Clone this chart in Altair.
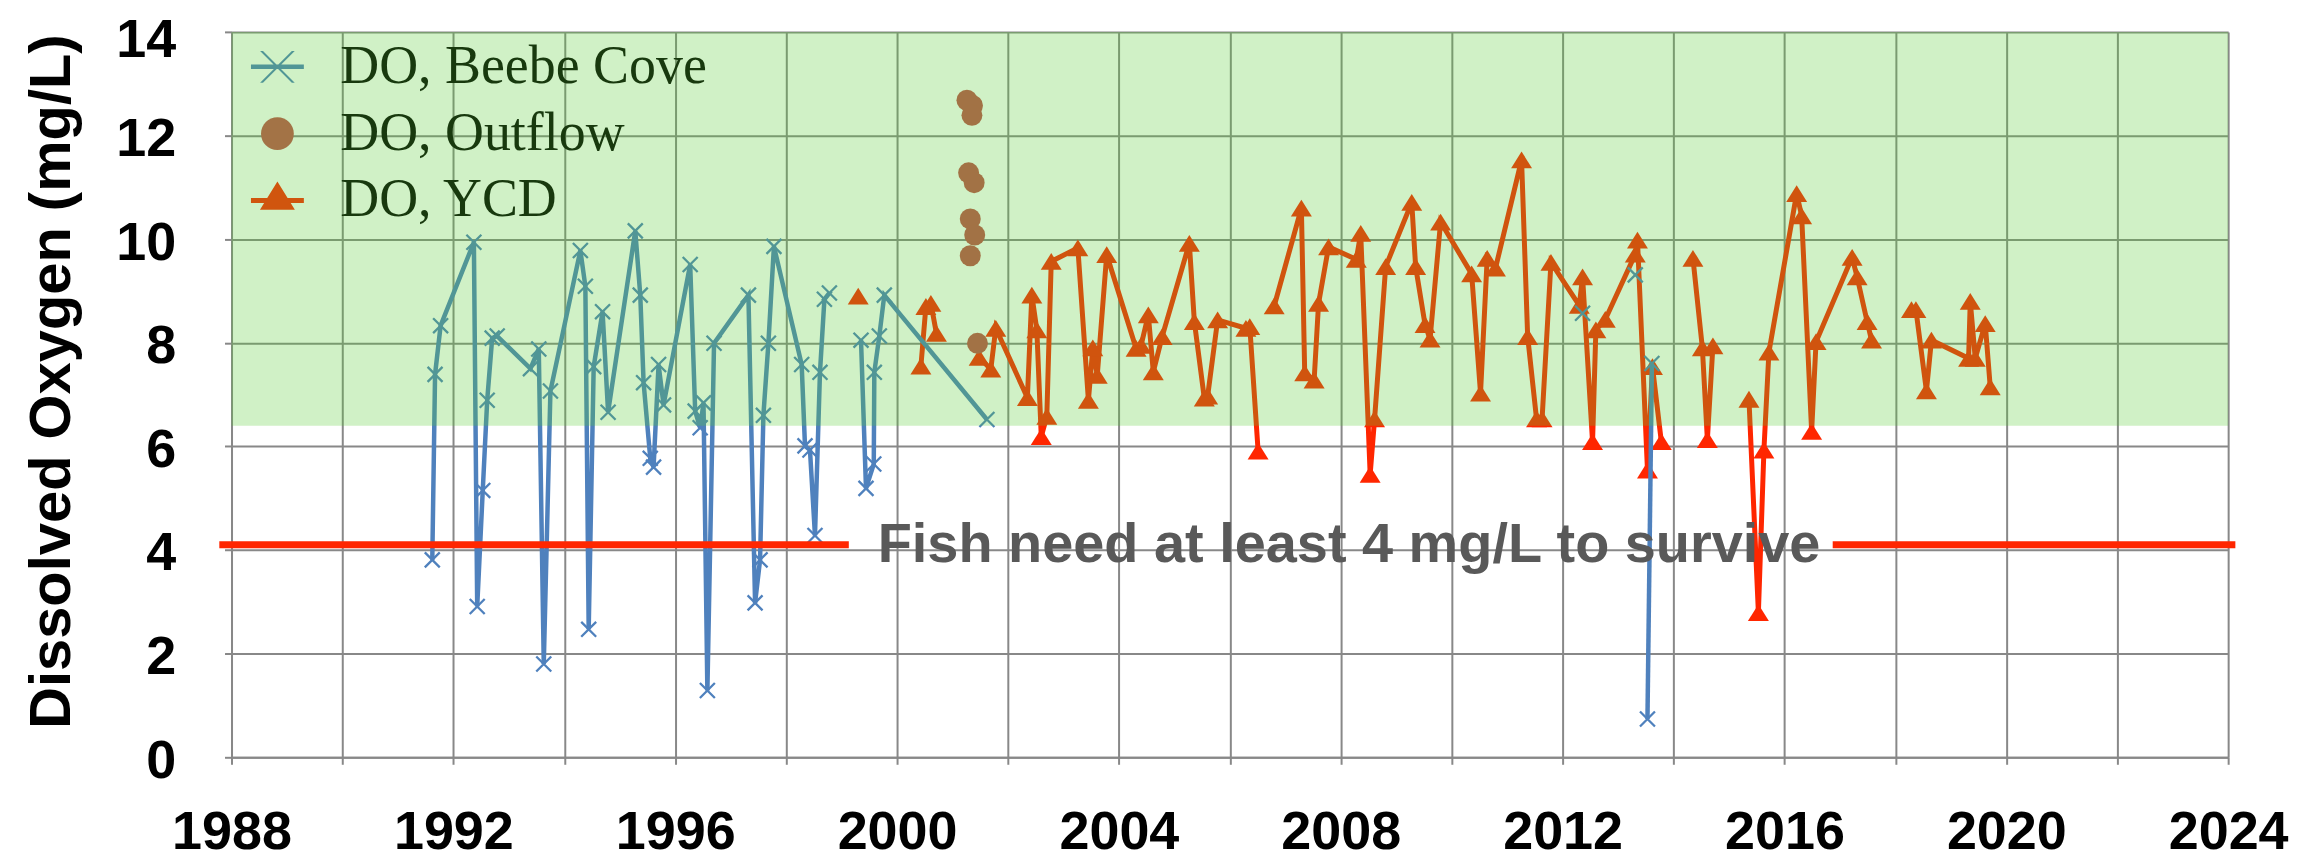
import altair as alt
import pandas as pd

# ---------------- data ----------------
series_names = ["DO, Beebe Cove", "DO, Outflow", "DO, YCD"]

beebe_year = [1991.62, 1991.67, 1991.77, 1992.37, 1992.43, 1992.53, 1992.61, 1992.70, 1992.79,
              1993.39, 1993.54, 1993.63, 1993.75, 1994.29, 1994.38, 1994.44, 1994.53, 1994.69,
              1994.79, 1995.28, 1995.37, 1995.43, 1995.55, 1995.61, 1995.70, 1995.79, 1996.27,
              1996.36, 1996.45, 1996.51, 1996.58, 1996.70, 1997.32, 1997.44, 1997.53, 1997.59,
              1997.68, 1997.78, 1998.28, 1998.34, 1998.43, 1998.52, 1998.61, 1998.69, 1998.78,
              1999.35, 1999.44, 1999.58, 1999.59, 1999.68, 1999.77, 2001.62,
              2012.36,
              2013.31,
              2013.53, 2013.61]
beebe_do = [3.81, 7.39, 8.33, 9.94, 2.91, 5.15, 6.89, 8.09, 8.13,
            7.50, 7.88, 1.80, 7.07, 9.78, 9.09, 2.47, 7.54, 8.60,
            6.66, 10.16, 8.92, 7.23, 5.77, 5.60, 7.58, 6.80, 9.51,
            6.68, 6.36, 6.84, 1.29, 7.99, 8.92, 2.98, 3.81, 6.60,
            7.99, 9.86, 7.58, 6.01, 5.93, 4.28, 7.43, 8.84, 8.96,
            8.05, 5.19, 5.66, 7.43, 8.13, 8.92, 6.52,
            8.57,
            9.31,
            0.74, 7.60]
beebe_seg = [1] * 45 + [2] * 7 + [3] + [4] + [5] * 2

outflow_year = [2001.26, 2001.36, 2001.35, 2001.29, 2001.39, 2001.32, 2001.40, 2001.32, 2001.45]
outflow_do = [12.68, 12.58, 12.39, 11.28, 11.09, 10.39, 10.08, 9.68, 7.99]

ycd_year = [1999.30,
            2000.43, 2000.52, 2000.61, 2000.71,
            2001.48, 2001.69, 2001.78, 2002.35, 2002.43, 2002.52, 2002.60, 2002.70, 2002.78,
            2003.26, 2003.45, 2003.53, 2003.61, 2003.78, 2004.31, 2004.40, 2004.53, 2004.62,
            2004.78, 2005.27, 2005.36, 2005.54, 2005.60, 2005.78, 2006.29, 2006.36, 2006.51,
            2006.80, 2007.29, 2007.35, 2007.52, 2007.60, 2007.78, 2008.28, 2008.36, 2008.53,
            2008.61, 2008.81, 2009.28, 2009.35, 2009.52, 2009.61, 2009.80, 2010.36, 2010.52,
            2010.64, 2010.79, 2011.26, 2011.37, 2011.53, 2011.63, 2011.79, 2012.30, 2012.36,
            2012.54, 2012.60, 2012.77, 2013.31, 2013.35, 2013.53, 2013.62, 2013.78,
            2014.35, 2014.52, 2014.61, 2014.71,
            2015.36, 2015.53, 2015.63, 2015.72, 2016.22, 2016.31, 2016.49, 2016.57, 2017.22,
            2017.31, 2017.49, 2017.57,
            2018.29, 2018.37, 2018.56, 2018.65, 2019.32, 2019.35, 2019.44, 2019.62, 2019.71]
ycd_do = [8.90,
          7.55, 8.70, 8.76, 8.18,
          7.72, 7.49, 8.28, 6.94, 8.92, 8.25, 6.19, 6.58, 9.57,
          9.83, 6.89, 7.90, 7.37, 9.70, 7.89, 7.95, 8.54, 7.44,
          8.12, 9.92, 8.41, 6.93, 6.97, 8.44, 8.28, 8.31, 5.91,
          8.71, 10.60, 7.42, 7.28, 8.76, 9.85, 9.61, 10.11, 5.46,
          6.53, 9.47, 10.71, 9.47, 8.35, 8.07, 10.33, 9.33, 7.03,
          9.63, 9.44, 11.53, 8.12, 6.53, 6.53, 9.55, 8.72, 9.27,
          6.09, 8.25, 8.45, 9.71, 9.98, 5.54, 7.54, 6.09,
          9.63, 7.90, 6.13, 7.94,
          6.91, 2.79, 5.93, 7.82, 10.88, 10.45, 6.29, 8.02, 9.65,
          9.27, 8.41, 8.05,
          8.64, 8.64, 7.07, 8.05, 7.70, 8.80, 7.70, 8.37, 7.15]
ycd_seg = [1] + [2] * 4 + [3] * 27 + [4] * 35 + [5] * 4 + [6] * 12 + [7] * 9

x_ticks = list(range(1988, 2025, 2))
y_ticks = list(range(0, 15, 2))
x_domain = [1988, 2024]
y_domain = [0, 14]

band_low, band_high = 6.4, 14
threshold = 4.1
threshold_start = [1987.78, 2016.87]
threshold_end = [1999.13, 2024.13]
threshold_label = "Fish need at least 4 mg/L to survive"
threshold_label_year = 2008.15

# ---------------- styling ----------------
BLUE = "#4F81BD"
BROWN = "#C0504D"
RED = "#FF2600"
BAND_RGB = (87, 205, 51)
BAND_ALPHA = 0.28
GRID = "#888888"
SANS = "Liberation Sans"


def under_band(hex_color):
    r, g, b = (int(hex_color[i:i + 2], 16) for i in (1, 3, 5))
    mix = [round(BAND_ALPHA * c2 + (1 - BAND_ALPHA) * c1) for c1, c2 in zip((r, g, b), BAND_RGB)]
    return "#%02X%02X%02X" % tuple(mix)


legend_colors = [under_band(BLUE), under_band(BROWN), under_band(RED)]
legend_text_color = under_band("#000000")

X_PATH = "M-1,-1L1,1M-1,1L1,-1"
TRI_PATH = "M-1,0.8L0,-0.8L1,0.8Z"
LEG_X = ("M-1,-0.085H1V0.085H-1Z "
         "M-0.655,-0.6L-0.545,-0.6L0.655,0.6L0.545,0.6Z "
         "M0.545,-0.6L0.655,-0.6L-0.545,0.6L-0.655,0.6Z")
LEG_CIRCLE = "M-0.62,0A0.62,0.62,0,1,0,0.62,0A0.62,0.62,0,1,0,-0.62,0Z"
LEG_TRI = "M-1,-0.095H1V0.095H-1Z M-0.66,0.35L0,-0.72L0.66,0.35Z"
LEG_SIZE = 2809

# ---------------- tables ----------------
beebe_df = pd.DataFrame({"year": beebe_year, "do": beebe_do, "seg": beebe_seg})
outflow_df = pd.DataFrame({"year": outflow_year, "do": outflow_do})
ycd_df = pd.DataFrame({"year": ycd_year, "do": ycd_do, "seg": ycd_seg})
band_df = pd.DataFrame({"year": [x_domain[0]], "year2": [x_domain[1]], "do": [band_low], "do2": [band_high]})
rule_df = pd.DataFrame({"year": threshold_start, "year2": threshold_end, "do": [threshold] * 2})
label_df = pd.DataFrame({"year": [threshold_label_year], "do": [threshold], "label": [threshold_label]})
legend_df = pd.DataFrame({"series": series_names, "year": [1990] * 3, "do": [10] * 3})

x_enc = alt.X(
    "year:Q", title=None,
    scale=alt.Scale(domain=x_domain, nice=False, zero=False),
    axis=alt.Axis(values=x_ticks, format="d",
                  labelExpr="datum.value % 4 === 0 ? datum.label : ''",
                  tickSize=7, labelPadding=41, labelFontSize=54, labelFont=SANS,
                  labelFontWeight="bold", labelColor="black", labelFlush=False,
                  labelOverlap=False),
)
y_enc = alt.Y(
    "do:Q", title="Dissolved Oxygen (mg/L)",
    scale=alt.Scale(domain=y_domain, nice=False, zero=False),
    axis=alt.Axis(values=y_ticks, tickSize=7, labelPadding=49, labelFontSize=54, labelFont=SANS,
                  labelFontWeight="bold", labelColor="black",
                  labelOffset={"condition": {"test": "datum.value === 14", "value": 9}, "value": 4},
                  labelFlush=False,
                  titleFont=SANS, titleFontWeight="bold", titleFontSize=58, titleColor="black",
                  titleX=-162, titleY=350, titleAlign="center", titleBaseline="alphabetic",
                  titleLimit=0),
)

ycd_line = alt.Chart(ycd_df).mark_line(color=RED, strokeWidth=5).encode(
    x=x_enc, y=y_enc, detail="seg:N")
ycd_pts = alt.Chart(ycd_df).mark_point(shape=TRI_PATH, size=441, filled=True, color=RED, opacity=1).encode(
    x=x_enc, y=y_enc)
outflow_pts = alt.Chart(outflow_df).mark_point(shape="circle", size=441, filled=True, color=BROWN,
                                               opacity=1).encode(x=x_enc, y=y_enc)
beebe_line = alt.Chart(beebe_df).mark_line(color=BLUE, strokeWidth=4.5).encode(
    x=x_enc, y=y_enc, detail="seg:N")
beebe_pts = alt.Chart(beebe_df).mark_point(shape=X_PATH, size=225, filled=False, color=BLUE,
                                           strokeWidth=2.3, opacity=1).encode(x=x_enc, y=y_enc)

band = alt.Chart(band_df).mark_rect(color="#%02X%02X%02X" % BAND_RGB, opacity=BAND_ALPHA).encode(
    x=x_enc, x2=alt.X2("year2:Q"), y=y_enc, y2=alt.Y2("do2:Q"))

rule = alt.Chart(rule_df).mark_rule(color=RED, strokeWidth=7).encode(
    x=x_enc, x2=alt.X2("year2:Q"), y=y_enc)

label = alt.Chart(label_df).mark_text(font=SANS, fontWeight="bold", fontSize=56, color="#595959",
                                      align="center", baseline="middle").encode(
    x=x_enc, y=y_enc, text="label:N")

leg = alt.Legend(orient="none", legendX=19, legendY=8, title=None, labelFont="Liberation Serif",
                 labelFontSize=54, labelColor=legend_text_color, labelOffset=36, rowPadding=13,
                 labelLimit=0, symbolSize=LEG_SIZE, symbolStrokeWidth=0, symbolOpacity=1, padding=0)
legend_layer = alt.Chart(legend_df).mark_point(filled=True, size=LEG_SIZE, opacity=1).encode(
    x=x_enc, y=y_enc,
    color=alt.Color("series:N", scale=alt.Scale(domain=series_names, range=legend_colors), legend=leg),
    shape=alt.Shape("series:N", scale=alt.Scale(domain=series_names, range=[LEG_X, LEG_CIRCLE, LEG_TRI]),
                    legend=leg),
).transform_filter("false")

chart = alt.layer(
    ycd_line, ycd_pts, outflow_pts, beebe_line, beebe_pts, band, rule, label, legend_layer
).properties(
    width=2001, height=727,
    autosize=alt.AutoSizeParams(type="none"),
    padding={"left": 224, "top": 23, "right": 70, "bottom": 104},
    background="white",
).configure_view(stroke=None).configure_axis(
    gridColor=GRID, gridWidth=2, gridOpacity=1, domainColor=GRID, domainWidth=2,
    tickColor=GRID, tickWidth=2,
)

chart.save("out.html", embed_options={"renderer": "svg", "actions": False})
